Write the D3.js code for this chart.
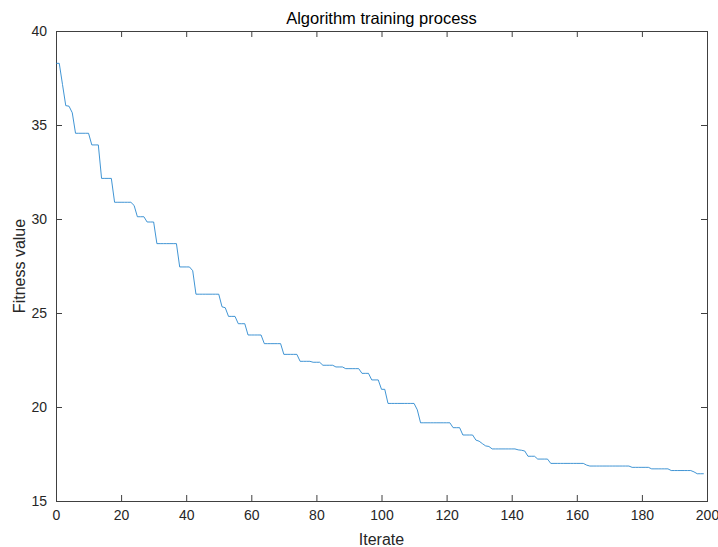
<!DOCTYPE html>
<html>
<head>
<meta charset="utf-8">
<script src="https://cdn.jsdelivr.net/npm/d3@7/dist/d3.min.js"></script>
<style>
html, body { margin: 0; padding: 0; background: #fff; }
svg text { font-family: "Liberation Sans", Arial, sans-serif; }
</style>
</head>
<body>
<svg id="chart" width="718" height="547"></svg>
<script>
// ---- data ----
const titleText = "Algorithm training process";
const xLabel = "Iterate";
const yLabel = "Fitness value";
const xTicks = [0, 20, 40, 60, 80, 100, 120, 140, 160, 180, 200];
const yTicks = [15, 20, 25, 30, 35, 40];
const fitness = [
  38.28, 38.28, 37.15, 36.03, 36.0, 35.65, 34.56, 34.56, 34.56, 34.56,
  34.56, 33.94, 33.94, 33.94, 32.16, 32.16, 32.16, 32.16, 30.89, 30.89,
  30.89, 30.89, 30.89, 30.89, 30.72, 30.12, 30.12, 30.12, 29.84, 29.84,
  29.84, 28.69, 28.69, 28.69, 28.69, 28.69, 28.69, 28.69, 27.45, 27.45,
  27.45, 27.45, 27.25, 26.0, 26.0, 26.0, 26.0, 26.0, 26.0, 26.0,
  26.0, 25.33, 25.28, 24.82, 24.82, 24.82, 24.43, 24.43, 24.43, 23.83,
  23.83, 23.83, 23.83, 23.83, 23.37, 23.37, 23.37, 23.37, 23.37, 23.37,
  22.8, 22.8, 22.8, 22.8, 22.8, 22.43, 22.43, 22.43, 22.43, 22.38,
  22.38, 22.38, 22.22, 22.22, 22.22, 22.22, 22.13, 22.13, 22.13, 22.04,
  22.04, 22.04, 22.04, 22.04, 21.79, 21.79, 21.79, 21.44, 21.44, 21.44,
  20.94, 20.94, 20.19, 20.19, 20.19, 20.19, 20.19, 20.19, 20.19, 20.19,
  20.19, 19.85, 19.16, 19.16, 19.16, 19.16, 19.16, 19.16, 19.16, 19.16,
  19.16, 19.16, 18.9, 18.9, 18.9, 18.51, 18.51, 18.51, 18.51, 18.24,
  18.18, 18.05, 17.93, 17.9, 17.77, 17.77, 17.77, 17.77, 17.77, 17.77,
  17.77, 17.77, 17.72, 17.7, 17.66, 17.38, 17.38, 17.38, 17.23, 17.23,
  17.23, 17.23, 17.0, 17.0, 17.0, 17.0, 17.0, 17.0, 17.0, 17.0,
  17.0, 17.0, 17.0, 16.91, 16.86, 16.86, 16.86, 16.86, 16.86, 16.86,
  16.86, 16.86, 16.86, 16.86, 16.86, 16.86, 16.86, 16.79, 16.79, 16.79,
  16.79, 16.79, 16.79, 16.71, 16.71, 16.71, 16.71, 16.71, 16.71, 16.62,
  16.62, 16.62, 16.62, 16.62, 16.62, 16.62, 16.55, 16.45, 16.45, 16.45
];

// ---- layout ----
const W = 718, H = 547;
const m = { left: 56, right: 11, top: 31, bottom: 46 };
const iw = W - m.left - m.right, ih = H - m.top - m.bottom;
const axisColor = "#404040";
const textColor = "#262626";

const svg = d3.select("#chart");
const g = svg.append("g").attr("transform", `translate(${m.left},${m.top})`);

const x = d3.scaleLinear().domain([0, 200]).range([0, iw]);
const y = d3.scaleLinear().domain([15, 40]).range([ih, 0]);

const tickLen = 6;
function styleAxis(sel) {
  sel.select(".domain").remove();
  sel.selectAll(".tick line").attr("stroke", axisColor);
  sel.selectAll(".tick text").attr("fill", textColor).style("font-size", "14px");
}

// bottom axis
g.append("g").attr("transform", `translate(0,${ih})`)
  .call(d3.axisBottom(x).tickValues(xTicks).tickSizeInner(-tickLen).tickSizeOuter(0).tickPadding(9).tickFormat(d3.format("d")))
  .call(styleAxis);
// top ticks
g.append("g")
  .call(d3.axisTop(x).tickValues(xTicks).tickSizeInner(-tickLen).tickSizeOuter(0).tickFormat(""))
  .call(styleAxis);
// left axis
g.append("g")
  .call(d3.axisLeft(y).tickValues(yTicks).tickSizeInner(-tickLen).tickSizeOuter(0).tickPadding(9).tickFormat(d3.format("d")))
  .call(styleAxis);
// right ticks
g.append("g").attr("transform", `translate(${iw},0)`)
  .call(d3.axisRight(y).tickValues(yTicks).tickSizeInner(-tickLen).tickSizeOuter(0).tickFormat(""))
  .call(styleAxis);

// box
g.append("rect").attr("x", 0.5).attr("y", 0.5).attr("width", iw).attr("height", ih)
  .attr("fill", "none").attr("stroke", axisColor).attr("stroke-width", 1);

// line
const line = d3.line().x((d, i) => x(i)).y(d => y(d));
g.append("path").datum(fitness)
  .attr("d", line)
  .attr("fill", "none")
  .attr("stroke", "#1f82cc")
  .attr("stroke-width", 0.85);

// labels
svg.append("text").attr("x", m.left + iw / 2).attr("y", 24)
  .attr("text-anchor", "middle").attr("fill", "#000").style("font-size", "16.5px").text(titleText);
svg.append("text").attr("x", m.left + iw / 2).attr("y", 545)
  .attr("text-anchor", "middle").attr("fill", textColor).style("font-size", "16px").text(xLabel);
svg.append("text").attr("transform", `translate(25,${m.top + ih / 2}) rotate(-90)`)
  .attr("text-anchor", "middle").attr("fill", textColor).style("font-size", "16px").text(yLabel);
</script>
</body>
</html>
